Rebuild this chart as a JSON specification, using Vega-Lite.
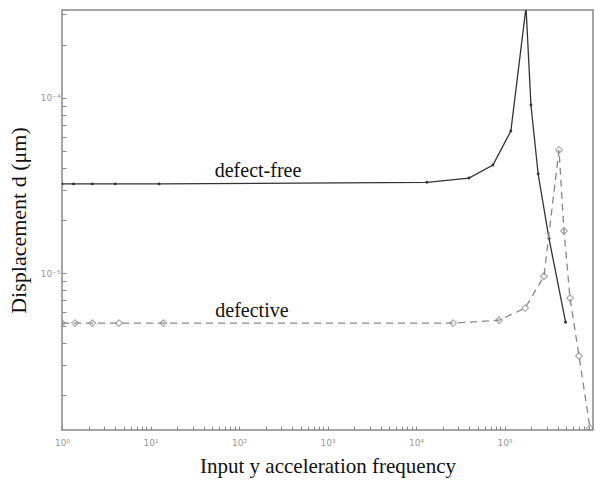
{
  "$schema": "https://vega.github.io/schema/vega-lite/v6.json",
  "autosize": "none",
  "width": 531,
  "height": 420,
  "padding": {"left": 62, "top": 10, "right": 2, "bottom": 55},
  "background": "white",
  "config": {
    "view": {"stroke": "#888", "strokeWidth": 1.5},
    "font": "Liberation Serif"
  },
  "datasets": {
    "free": [
      {"f": 1, "d": 3.23e-5}, {"f": 1.35, "d": 3.23e-5}, {"f": 2.2, "d": 3.23e-5}, {"f": 4, "d": 3.23e-5}, {"f": 12.5, "d": 3.23e-5},
      {"f": 13300, "d": 3.3e-5}, {"f": 39700, "d": 3.49e-5}, {"f": 74000, "d": 4.14e-5}, {"f": 118000, "d": 6.48e-5},
      {"f": 175000, "d": 3.3e-4}, {"f": 199000, "d": 9.12e-5}, {"f": 240000, "d": 3.68e-5}, {"f": 318000, "d": 1.58e-5}, {"f": 490000, "d": 5.24e-6}
    ],
    "defective": [
      {"f": 1, "d": 5.18e-6}, {"f": 1.4, "d": 5.18e-6}, {"f": 2.2, "d": 5.18e-6}, {"f": 4.4, "d": 5.18e-6}, {"f": 14, "d": 5.18e-6},
      {"f": 26200, "d": 5.18e-6}, {"f": 86700, "d": 5.38e-6}, {"f": 171000, "d": 6.31e-6}, {"f": 279000, "d": 9.6e-6},
      {"f": 413000, "d": 5.05e-5}, {"f": 470000, "d": 1.74e-5}, {"f": 550000, "d": 7.2e-6}, {"f": 695000, "d": 3.36e-6}, {"f": 925000, "d": 1.3e-6}
    ],
    "labels": [
      {"f": 164, "d": 3.83e-5, "t": "defect-free"},
      {"f": 140, "d": 6.1e-6, "t": "defective"}
    ]
  },
  "layer": [
    {
      "data": {"name": "free"},
      "mark": {"type": "line", "color": "#333", "strokeWidth": 1.3, "clip": true, "point": {"filled": true, "size": 8, "color": "#333"}},
      "encoding": {
        "x": {"field": "f", "type": "quantitative", "scale": {"type": "log", "domain": [1, 1000000], "nice": false},
          "axis": {"title": "Input y acceleration frequency", "titleFontSize": 21, "titleFont": "Liberation Serif", "titleColor": "#111", "titleFontWeight": "normal", "titlePadding": 8,
            "values": [1,2,3,4,5,6,7,8,9,10,20,30,40,50,60,70,80,90,100,200,300,400,500,600,700,800,900,1000,2000,3000,4000,5000,6000,7000,8000,9000,10000,20000,30000,40000,50000,60000,70000,80000,90000,100000,200000,300000,400000,500000,600000,700000,800000,900000],
            "labelExpr": "datum.value==1?'10⁰':datum.value==10?'10¹':datum.value==100?'10²':datum.value==1000?'10³':datum.value==10000?'10⁴':datum.value==100000?'10⁵':''",
            "tickSize": -4, "tickColor": "#888", "domain": false, "grid": false, "labelFontSize": 9, "labelColor": "#999", "labelFont": "DejaVu Sans", "labelPadding": 12, "labelOverlap": false, "labelFlush": false}},
        "y": {"field": "d", "type": "quantitative", "scale": {"type": "log", "domain": [1.27e-6, 3.18e-4], "nice": false},
          "axis": {"title": "Displacement  d (μm)", "titleFontSize": 22, "titleFont": "Liberation Serif", "titleColor": "#111", "titleFontWeight": "normal", "titlePadding": 10,
            "values": [2e-6,3e-6,4e-6,5e-6,6e-6,7e-6,8e-6,9e-6,1e-5,2e-5,3e-5,4e-5,5e-5,6e-5,7e-5,8e-5,9e-5,1e-4,2e-4,3e-4],
            "labelExpr": "datum.value==1e-5?'10⁻⁵':datum.value==1e-4?'10⁻⁴':''",
            "tickSize": -4, "tickColor": "#888", "domain": false, "grid": false, "labelFontSize": 9, "labelColor": "#999", "labelFont": "DejaVu Sans", "labelPadding": 6, "labelOverlap": false}}
      }
    },
    {
      "data": {"name": "defective"},
      "mark": {"type": "line", "color": "#888", "strokeWidth": 1.3, "strokeDash": [7, 5], "clip": true},
      "encoding": {
        "x": {"field": "f", "type": "quantitative"},
        "y": {"field": "d", "type": "quantitative"}
      }
    },
    {
      "data": {"name": "defective"},
      "mark": {"type": "point", "shape": "diamond", "filled": false, "color": "#888", "size": 45, "strokeWidth": 1.2, "clip": true},
      "encoding": {
        "x": {"field": "f", "type": "quantitative"},
        "y": {"field": "d", "type": "quantitative"}
      }
    },
    {
      "data": {"name": "labels"},
      "mark": {"type": "text", "font": "Liberation Serif", "fontSize": 20, "color": "#111"},
      "encoding": {
        "x": {"field": "f", "type": "quantitative"},
        "y": {"field": "d", "type": "quantitative"},
        "text": {"field": "t"}
      }
    }
  ]
}
